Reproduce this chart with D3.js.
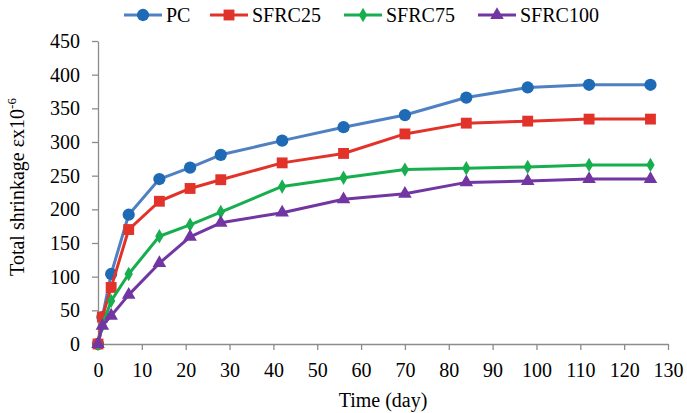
<!DOCTYPE html>
<html>
<head>
<meta charset="utf-8">
<script src="https://cdn.jsdelivr.net/npm/d3@7"></script>
<style>
  html, body { margin: 0; padding: 0; background: #fff; }
  svg { display: block; font-family: "Liberation Serif", "Times New Roman", serif; }
</style>
</head>
<body>
<svg id="chart" width="687" height="413"></svg>
<script>
// Measurement ages (days)
const days = [0, 1, 3, 7, 14, 21, 28, 42, 56, 70, 84, 98, 112, 126];

// Total shrinkage (x10^-6) per mix
const pc      = [0, 40, 104, 192, 245, 262, 281, 302, 322, 340, 366, 381, 385, 385];
const sfrc25  = [0, 40, 84, 170, 212, 231, 244, 269, 283, 312, 328, 331, 334, 334];
const sfrc75  = [0, 28, 64, 104, 160, 177, 196, 234, 247, 259, 261, 263, 266, 266];
const sfrc100 = [0, 27, 42, 73, 120, 159, 180, 195, 215, 223, 240, 242, 245, 245];

const seriesNames = ["PC", "SFRC25", "SFRC75", "SFRC100"];

// Axis ticks
const xTicks = [0, 10, 20, 30, 40, 50, 60, 70, 80, 90, 100, 110, 120, 130];
const yTicks = [0, 50, 100, 150, 200, 250, 300, 350, 400, 450];

const series = [
  { name: seriesNames[0], values: pc,      line: "#4f81c2", fill: "#1f6ab5", shape: d3.symbolCircle,   size: 118 },
  { name: seriesNames[1], values: sfrc25,  line: "#e2332b", fill: "#e2332b", shape: d3.symbolSquare,   size: 118 },
  { name: seriesNames[2], values: sfrc75,  line: "#16ae4e", fill: "#16ae4e", shape: d3.symbolDiamond,  size: 60 },
  { name: seriesNames[3], values: sfrc100, line: "#7236a2", fill: "#7236a2", shape: d3.symbolTriangle, size: 80 }
];

const svg = d3.select("#chart");
const x = d3.scaleLinear().domain([0, 130]).range([98, 668]);
const y = d3.scaleLinear().domain([0, 450]).range([344, 41]);
const axisColor = "#8c8c8c";
const fontFamily = "Liberation Serif, Times New Roman, serif";

// X axis
const gx = svg.append("g")
  .attr("transform", `translate(0,${y(0)})`)
  .call(d3.axisBottom(x).tickValues(xTicks).tickSize(6).tickSizeOuter(0).tickPadding(12.5));
gx.select(".domain").attr("stroke", axisColor).attr("stroke-width", 1.3);
gx.selectAll(".tick line").attr("stroke", axisColor).attr("stroke-width", 1.3);
gx.selectAll(".tick text").attr("font-size", 20).attr("fill", "#000")
  .attr("font-family", fontFamily);

// Y axis
const gy = svg.append("g")
  .attr("transform", `translate(${x(0)},0)`)
  .call(d3.axisLeft(y).tickValues(yTicks).tickSize(6).tickSizeOuter(0).tickPadding(12));
gy.select(".domain").attr("stroke", axisColor).attr("stroke-width", 1.3);
gy.selectAll(".tick line").attr("stroke", axisColor).attr("stroke-width", 1.3);
gy.selectAll(".tick text").attr("font-size", 20).attr("fill", "#000")
  .attr("font-family", fontFamily);

// Axis titles
svg.append("text")
  .attr("x", 383).attr("y", 407)
  .attr("text-anchor", "middle")
  .attr("font-size", 20)
  .text("Time (day)");

const yTitle = svg.append("text")
  .attr("transform", "translate(24,187) rotate(-90)")
  .attr("text-anchor", "middle")
  .attr("font-size", 20);
yTitle.append("tspan").text("Total shrinkage εx10");
yTitle.append("tspan").attr("dy", -8).attr("font-size", 13).text("-6");

// Series lines and markers
const line = d3.line().x((d, i) => x(days[i])).y(d => y(d));

series.forEach(s => {
  const g = svg.append("g");
  g.append("path")
    .datum(s.values)
    .attr("fill", "none")
    .attr("stroke", s.line)
    .attr("stroke-width", 3)
    .attr("stroke-linejoin", "round")
    .attr("d", line);
  g.selectAll("path.mark")
    .data(s.values)
    .join("path")
    .attr("class", "mark")
    .attr("transform", (d, i) => `translate(${x(days[i])},${y(d)})`)
    .attr("d", d3.symbol().type(s.shape).size(s.size))
    .attr("fill", s.fill);
});

// Legend
const legendX = [124, 210, 344, 478];
const legend = svg.append("g");
series.forEach((s, i) => {
  const lx = legendX[i];
  const ly = 15;
  const g = legend.append("g");
  g.append("line")
    .attr("x1", lx).attr("x2", lx + 38)
    .attr("y1", ly).attr("y2", ly)
    .attr("stroke", s.line).attr("stroke-width", 3);
  g.append("path")
    .attr("transform", `translate(${lx + 19},${ly})`)
    .attr("d", d3.symbol().type(s.shape).size(s.size))
    .attr("fill", s.fill);
  g.append("text")
    .attr("x", lx + 42).attr("y", ly + 7)
    .attr("font-size", 20)
    .text(s.name);
});
</script>
</body>
</html>
